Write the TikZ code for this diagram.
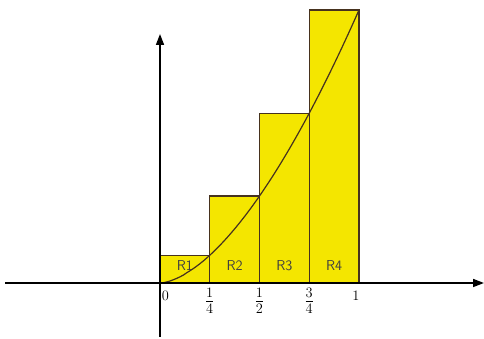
\documentclass[tikz,border=0pt]{standalone}
\usepackage{amsmath}
\usepackage{tikz}
\usetikzlibrary{positioning,arrows.meta,calc}
\usepackage{xcolor}
\definecolor{barYellow}{RGB}{244,230,0}
\definecolor{barEdge}{RGB}{70,50,30}

\begin{document}
\begin{tikzpicture}[
    x=1pt, y=1pt,
    every node/.style={font=\Large, inner sep=1pt},
    barRect/.style={draw=barEdge, fill=barYellow, line width=1.2pt},
    axisLine/.style={draw=black, line width=1.6pt, -{Triangle[length=11pt,width=8pt]}},
    barLabel/.style={font=\sffamily\Large, text=black!75},
    tickLabel/.style={font=\Large},
    fracLabel/.style={font=\huge}
]
    \useasboundingbox (0,0) rectangle (484,339);

    \coordinate (O) at (160,56);

    % rectangles, right end points of y = x^1.65
    \foreach \i/\name in {1/R1,2/R2,3/R3,4/R4} {
        \pgfmathsetmacro{\xl}{(\i-1)*49.75}
        \pgfmathsetmacro{\xr}{\i*49.75}
        \pgfmathsetmacro{\h}{273*(\i/4)^1.65}
        \path [barRect] ($(O)+(\xl,0)$) rectangle ($(O)+(\xr,\h)$);
        \node [barLabel] (lbl\name) at ($(O)+(\xl+24.9,17)$) {\name};
    }

    % curve
    \draw [barEdge, line width=1.2pt] plot [domain=0:1, samples=60]
        ({160+199*\x}, {56+273*(\x)^1.65});

    % axes
    \coordinate (xStart) at (5,56);
    \coordinate (xEnd) at (484,56);
    \coordinate (yStart) at (160,2);
    \coordinate (yEnd) at (160,305);
    \path [axisLine] (xStart) -- (xEnd);
    \path [axisLine] (yStart) -- (yEnd);

    % tick labels
    \node [tickLabel] (t0) at (165.5,43) {0};
    \node [fracLabel] (t1) at (209.75,38) {$\frac{1}{4}$};
    \node [fracLabel] (t2) at (259.5,38) {$\frac{1}{2}$};
    \node [fracLabel] (t3) at (309.25,38) {$\frac{3}{4}$};
    \node [tickLabel] (t4) at (356,43) {1};
\end{tikzpicture}
\end{document}
